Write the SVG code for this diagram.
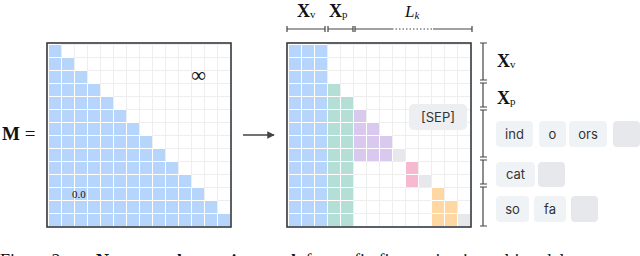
<svg xmlns="http://www.w3.org/2000/svg" width="640" height="256" viewBox="0 0 640 256">
<style>
.frame{fill:none;stroke:#33393f;stroke-width:1.6}
.br{stroke:#444;stroke-width:1.2;fill:none}
.ser{font-family:"Liberation Serif","Times New Roman",serif;fill:#111}
.chip{fill:#f0f3f6}
.empty{fill:#e7e8eb}
.tok{font-family:Inter,"Noto Sans",sans-serif;font-size:13px;fill:#333;text-anchor:middle}
</style>
<defs>
<pattern id="pg" width="13" height="13" patternUnits="userSpaceOnUse"><rect width="13" height="13" fill="#fff"/><path d="M0 0.5H13M0.5 0V13" stroke="#eeeeee" stroke-width="1"/></pattern>
<pattern id="pb" width="13" height="13" patternUnits="userSpaceOnUse"><rect width="13" height="13" fill="#fff"/><rect x="1" y="1" width="12" height="12" fill="#b5d5fd"/></pattern>
<pattern id="pgr" width="13" height="13" patternUnits="userSpaceOnUse"><rect width="13" height="13" fill="#fff"/><rect x="1" y="1" width="12" height="12" fill="#b3dfd6"/></pattern>
<pattern id="pp" width="13" height="13" patternUnits="userSpaceOnUse"><rect width="13" height="13" fill="#fff"/><rect x="1" y="1" width="12" height="12" fill="#d9c9ee"/></pattern>
<pattern id="pk" width="13" height="13" patternUnits="userSpaceOnUse"><rect width="13" height="13" fill="#fff"/><rect x="1" y="1" width="12" height="12" fill="#f6b9cf"/></pattern>
<pattern id="po" width="13" height="13" patternUnits="userSpaceOnUse"><rect width="13" height="13" fill="#fff"/><rect x="1" y="1" width="12" height="12" fill="#fed7a3"/></pattern>
<pattern id="pz" width="13" height="13" patternUnits="userSpaceOnUse"><rect width="13" height="13" fill="#fff"/><rect x="1" y="1" width="12" height="12" fill="#e7e8eb"/></pattern>
<marker id="ah" viewBox="0 0 10 10" refX="9" refY="5" markerWidth="5" markerHeight="5" orient="auto" markerUnits="strokeWidth"><path d="M0 0L10 5L0 10z" fill="#444"/></marker>
</defs>

<g id="label-M"><text class="ser" x="2" y="140" font-size="19"><tspan font-weight="bold">M</tspan> =</text></g>

<g id="mask-left">
<g transform="translate(48,44)">
<rect width="182" height="182" fill="url(#pg)"/>
<path d="M0 0H13V13H26V26H39V39H52V52H65V65H78V78H91V91H104V104H117V117H130V130H143V143H156V156H169V169H182V182H0Z" fill="url(#pb)"/>
</g>
<rect class="frame" x="47" y="43" width="184" height="184"/>
<text class="ser" x="198.5" y="82" font-size="21" text-anchor="middle">∞</text>
<text class="ser" x="72" y="198" font-size="11">0.0</text>
</g>

<g id="connectors">
<line x1="243" y1="135" x2="274" y2="135" stroke="#444" stroke-width="1.5" marker-end="url(#ah)"/>
<path d="M409 117H398V154" stroke="#666" stroke-width="1.2" fill="none"/>
<circle cx="398" cy="154" r="2" fill="#222"/>
</g>

<g id="mask-right">
<g transform="translate(288,44)">
<rect width="182" height="182" fill="url(#pg)"/>
<rect width="39" height="182" fill="url(#pb)"/>
<path d="M39 39H52V52H65V182H39Z" fill="url(#pgr)"/>
<path d="M65 65H78V78H91V91H104V117H65Z" fill="url(#pp)"/>
<rect x="104" y="104" width="13" height="13" fill="url(#pz)"/>
<rect x="117" y="117" width="13" height="26" fill="url(#pk)"/>
<rect x="130" y="130" width="13" height="13" fill="url(#pz)"/>
<path d="M143 143H156V156H169V182H143Z" fill="url(#po)"/>
<rect x="169" y="169" width="13" height="13" fill="url(#pz)"/>
</g>
<rect class="frame" x="287" y="43" width="184" height="184"/>
</g>

<g id="sep-callout">
<rect x="409" y="104" width="58" height="26" rx="5" fill="#eceef1"/>
<text class="tok" x="438" y="122" font-size="14" fill="#444">[SEP]</text>
</g>

<g id="top-brackets">
<path class="br" d="M287 29H325M287 26V32M325 26V32M328 29H353M328 26V32M353 26V32M355 29H392M433 29H472M355 26V32M472 26V32"/>
<path d="M392 29H433" stroke="#444" stroke-width="1.2" stroke-dasharray="1.5 2"/>
<text class="ser" x="297" y="17" font-size="18" font-weight="bold">X<tspan font-size="11" font-weight="normal" dy="1">v</tspan></text>
<text class="ser" x="329" y="17" font-size="18" font-weight="bold">X<tspan font-size="11" font-weight="normal" dy="1">p</tspan></text>
<text class="ser" x="405" y="17" font-size="17" font-style="italic">L<tspan font-size="11" dy="2">k</tspan></text>
</g>

<g id="right-brackets">
<path class="br" d="M483 43V80M480 43H487M480 80H487M483 83V107M480 83H487M480 107H487M483 110V157M480 110H487M480 157H487M483 160V184M480 160H487M480 184H487M483 187V226M480 187H487M480 226H487"/>
<text class="ser" x="497" y="67" font-size="18" font-weight="bold">X<tspan font-size="11" font-weight="normal" dy="1">v</tspan></text>
<text class="ser" x="497" y="104" font-size="18" font-weight="bold">X<tspan font-size="11" font-weight="normal" dy="1">p</tspan></text>
</g>

<g id="tokens-1">
<rect class="chip" x="496" y="121" width="37" height="26" rx="4"/><text class="tok" x="514.5" y="138.5">ind</text>
<rect class="chip" x="539" y="121" width="27" height="26" rx="4"/><text class="tok" x="552.5" y="138.5">o</text>
<rect class="chip" x="569" y="121" width="38" height="26" rx="4"/><text class="tok" x="588" y="138.5">ors</text>
<rect class="empty" x="613" y="121" width="27" height="26" rx="4"/>
</g>
<g id="tokens-2">
<rect class="chip" x="496" y="162" width="39" height="25" rx="4"/><text class="tok" x="515.5" y="179">cat</text>
<rect class="empty" x="538" y="162" width="27" height="25" rx="4"/>
</g>
<g id="tokens-3">
<rect class="chip" x="496" y="196" width="33" height="26" rx="4"/><text class="tok" x="512.5" y="213.5">so</text>
<rect class="chip" x="534" y="196" width="32" height="26" rx="4"/><text class="tok" x="550" y="213.5">fa</text>
<rect class="empty" x="571" y="196" width="27" height="26" rx="4"/>
</g>

<g id="caption">
<text class="ser" x="0" y="267" font-size="18">Figure 2: <tspan x="96" font-weight="bold">Non-causal attention mask</tspan> for prefix fine-tuning in multimodal</text>
</g>
</svg>
